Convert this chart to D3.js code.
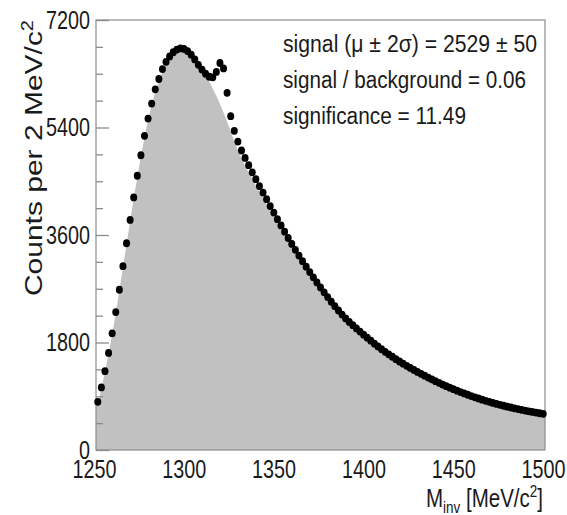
<!DOCTYPE html>
<html>
<head>
<meta charset="utf-8">
<script src="https://cdn.jsdelivr.net/npm/d3@7"></script>
<style>
  html, body { margin: 0; padding: 0; background: #fff; }
  svg { display: block; }
  text { font-family: "Liberation Sans", Arial, Helvetica, sans-serif; fill: #1a1a1a; }
</style>
</head>
<body>
<svg id="chart" width="567" height="515"></svg>
<script>
// ---- data ----
const binStart = 1251;   // first bin centre, MeV/c^2
const binWidth = 2;      // MeV/c^2
const counts = [
  806, 1047, 1320, 1625, 1954, 2310, 2683, 3078, 3462, 3853,
  4230, 4592, 4935, 5260, 5550, 5800, 6040, 6212, 6379, 6500,
  6590, 6660, 6705, 6725, 6715, 6680, 6620, 6540, 6450, 6370,
  6300, 6250, 6240, 6330, 6480, 6390, 5980, 5590, 5345, 5165,
  5015, 4890, 4770, 4650, 4535, 4420, 4310, 4200, 4085, 3975,
  3865, 3760, 3655, 3550, 3450, 3352, 3256, 3162, 3070, 2980,
  2892, 2806, 2722, 2640, 2560, 2482, 2408, 2336, 2268, 2203,
  2145, 2090, 2036, 1983, 1931, 1880, 1830, 1781, 1734, 1688,
  1644, 1602, 1561, 1521, 1482, 1445, 1409, 1374, 1340, 1307,
  1275, 1244, 1213, 1183, 1153, 1124, 1096, 1069, 1043, 1018,
  994, 970, 947, 925, 903, 882, 862, 843, 824, 806,
  789, 772, 756, 741, 726, 712, 698, 685, 672, 660,
  648, 637, 626, 615, 605
];
const background = [
  795, 1035, 1305, 1610, 1938, 2292, 2665, 3058, 3442, 3832,
  4208, 4568, 4910, 5232, 5520, 5768, 5990, 6170, 6330, 6458,
  6550, 6620, 6660, 6675, 6665, 6635, 6590, 6530, 6455, 6370,
  6275, 6170, 6055, 5930, 5795, 5650, 5495, 5335, 5175, 5020,
  4880, 4760, 4650, 4540, 4430, 4325, 4220, 4115, 4005, 3900,
  3795, 3690, 3590, 3490, 3390, 3295, 3200, 3110, 3020, 2930,
  2845, 2760, 2680, 2600, 2520, 2445, 2370, 2300, 2232, 2168,
  2110, 2055, 2002, 1950, 1900, 1850, 1800, 1752, 1706, 1660,
  1617, 1576, 1536, 1497, 1459, 1422, 1387, 1353, 1320, 1288,
  1257, 1227, 1197, 1168, 1139, 1111, 1084, 1057, 1031, 1006,
  982, 959, 936, 914, 893, 872, 852, 833, 815, 797,
  780, 763, 747, 732, 717, 703, 689, 676, 663, 651,
  639, 628, 617, 606, 596
];
const xTicks = [1250, 1300, 1350, 1400, 1450, 1500];
const yTicks = [0, 1800, 3600, 5400, 7200];
const yMinorTicks = [450, 900, 1350, 2250, 2700, 3150, 4050, 4500, 4950, 5850, 6300, 6750];
const legendLines = [
  "signal (\u03BC \u00B1 2\u03C3) = 2529 \u00B1 50",
  "signal / background = 0.06",
  "significance = 11.49"
];
const xDomain = [1250, 1500];
const yDomain = [0, 7200];

// ---- layout ----
const svg = d3.select("#chart");
const plotL = 96, plotR = 545, plotT = 20, plotB = 450;
const x = d3.scaleLinear().domain(xDomain).range([plotL, plotR]);
const y = d3.scaleLinear().domain(yDomain).range([plotB, plotT]);
const squeeze = 0.79;

const mass = i => binStart + i * binWidth;
const points = counts.map((c, i) => ({ m: mass(i), v: c }));
const bkgPts = background.map((b, i) => ({ m: mass(i), v: b }));
// extend the filled area flat to the frame edges
const fillPts = [{ m: xDomain[0], v: background[0] }, ...bkgPts,
                 { m: xDomain[1], v: background[background.length - 1] }];

// background fill
svg.append("path")
  .datum(fillPts)
  .attr("fill", "#c1c1c1")
  .attr("d", d3.area().x(d => x(d.m)).y0(y(0)).y1(d => y(d.v)).curve(d3.curveMonotoneX));

// frame
svg.append("rect")
  .attr("x", plotL).attr("y", plotT)
  .attr("width", plotR - plotL).attr("height", plotB - plotT)
  .attr("fill", "none").attr("stroke", "#8c8c8c").attr("stroke-width", 1.2);

// y ticks (inside)
const minorAx = svg.append("g").attr("transform", `translate(${plotL},0)`)
  .call(d3.axisRight(y).tickValues(yMinorTicks).tickSize(7).tickFormat(""));
const majorAx = svg.append("g").attr("transform", `translate(${plotL},0)`)
  .call(d3.axisRight(y).tickValues(yTicks).tickSize(13).tickFormat(""));
[minorAx, majorAx].forEach(g => {
  g.select(".domain").remove();
  g.selectAll("line").attr("stroke", "#8c8c8c").attr("stroke-width", 1.3);
});

// y labels
const yLab = svg.append("g").attr("transform", `translate(${plotL},0)`)
  .call(d3.axisLeft(y).tickValues(yTicks).tickSize(0).tickPadding(6).tickFormat(d3.format("d")));
yLab.select(".domain").remove();
yLab.selectAll("text")
  .attr("font-size", 25).attr("fill", "#1a1a1a")
  .style("font-family", '"Liberation Sans", Arial, sans-serif')
  .attr("textLength", function () { return this.textContent.length * 11; })
  .attr("lengthAdjust", "spacingAndGlyphs");

// x labels
const xLab = svg.append("g").attr("transform", `translate(-2,${plotB})`)
  .call(d3.axisBottom(x).tickValues(xTicks).tickSize(0).tickPadding(10).tickFormat(d3.format("d")));
xLab.select(".domain").remove();
xLab.selectAll("text")
  .attr("font-size", 25).attr("fill", "#1a1a1a")
  .style("font-family", '"Liberation Sans", Arial, sans-serif')
  .attr("textLength", function () { return this.textContent.length * 11; })
  .attr("lengthAdjust", "spacingAndGlyphs");

// data points
svg.append("g")
  .selectAll("ellipse")
  .data(points)
  .join("ellipse")
  .attr("cx", d => x(d.m))
  .attr("cy", d => y(d.v))
  .attr("rx", 3.5)
  .attr("ry", 3.9)
  .attr("fill", "#000");

// legend text
const legendWidths = [254, 243, 183];
legendLines.forEach((t, i) => {
  svg.append("text")
    .attr("x", 283).attr("y", 52 + i * 36)
    .attr("font-size", 23)
    .attr("textLength", legendWidths[i])
    .attr("lengthAdjust", "spacingAndGlyphs")
    .text(t);
});

// x axis title
const xt = svg.append("g").attr("transform", `translate(543,507) scale(${squeeze},1)`)
  .append("text").attr("text-anchor", "end").attr("font-size", 26);
xt.append("tspan").text("M");
xt.append("tspan").attr("font-size", 17).attr("dy", 6).text("inv");
xt.append("tspan").attr("dy", -6).text(" [MeV/c");
xt.append("tspan").attr("font-size", 17).attr("dy", -10).text("2");
xt.append("tspan").attr("dy", 10).text("]");

// y axis title (long along its length, narrow across)
const yt = svg.append("g").attr("transform", `translate(42,20) rotate(-90) scale(1,${squeeze})`)
  .append("text").attr("text-anchor", "end").attr("font-size", 30);
yt.append("tspan").text("Counts per 2 MeV/c");
yt.append("tspan").attr("font-size", 20).attr("dy", -12).text("2");
</script>
</body>
</html>
